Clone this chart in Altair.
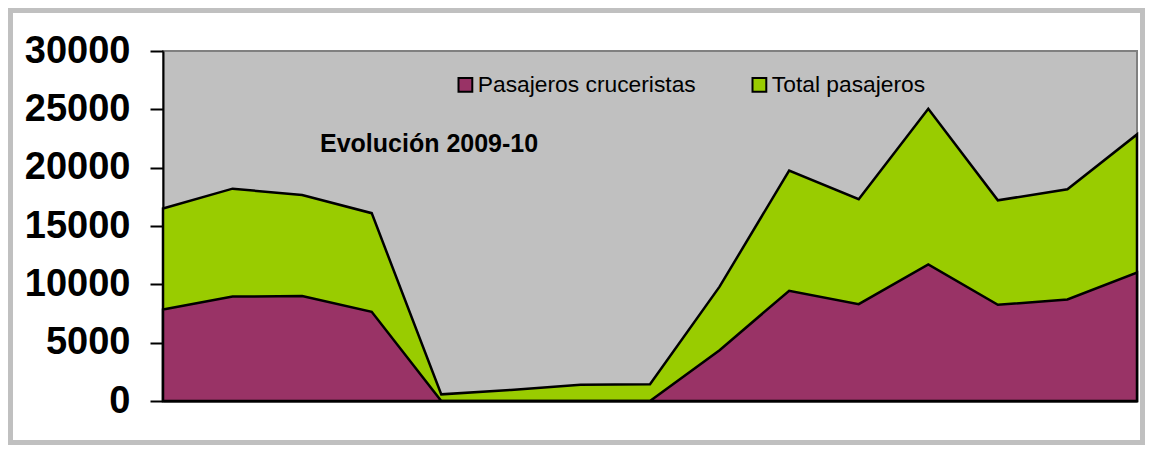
import altair as alt
import pandas as pd

# Data (15 monthly points, season 2009-10)
meses = list(range(1, 16))
cruceristas = [7850, 8950, 9000, 7650, 0, 0, 0, 0, 4350, 9450, 8300, 11700, 8250, 8700, 11000]
total = [16500, 18200, 17650, 16100, 570, 950, 1400, 1430, 9800, 19750, 17300, 25050, 17200, 18150, 22850]
series = ["Pasajeros cruceristas", "Total pasajeros"]
colores = ["#993366", "#99CC00"]
y_ticks = [0, 5000, 10000, 15000, 20000, 25000, 30000]
anotacion = "Evolución 2009-10"

df = pd.DataFrame({"mes": meses, series[0]: cruceristas, series[1]: total})
long_df = df.melt(id_vars="mes", var_name="serie", value_name="pasajeros")

FONT = "Liberation Sans"

x_enc = alt.X("mes:Q", scale=alt.Scale(domain=[1, 15], nice=False, zero=False),
              axis=alt.Axis(title=None, labels=False, ticks=False, grid=False,
                            domainColor="black", domainWidth=2))
y_enc = alt.Y("pasajeros:Q", scale=alt.Scale(domain=[0, 30000], nice=False),
              axis=alt.Axis(title=None, values=y_ticks, grid=False, format="d",
                            labelFontSize=38, labelFontWeight="bold", labelColor="black",
                            labelFont=FONT, labelPadding=20, tickSize=13, tickWidth=2,
                            tickColor="black", domainColor="black", domainWidth=2))
color_enc = alt.Color("serie:N",
                      scale=alt.Scale(domain=series, range=colores),
                      legend=alt.Legend(title=None, orient="none", legendX=291, legendY=22,
                                        direction="horizontal", symbolType="square",
                                        symbolSize=190, symbolStrokeColor="black",
                                        symbolStrokeWidth=2, symbolOpacity=1,
                                        labelFontSize=22.8, labelFont=FONT, labelColor="black",
                                        labelOffset=1, columnPadding=52, padding=0,
                                        labelLimit=400))

base = alt.Chart(long_df)

area_total = base.transform_filter(alt.datum.serie == series[1]).mark_area(
    stroke="black", strokeWidth=2.5, opacity=1, strokeJoin="miter"
).encode(x=x_enc, y=y_enc, color=color_enc)

area_cruc = base.transform_filter(alt.datum.serie == series[0]).mark_area(
    stroke="black", strokeWidth=2.5, opacity=1, strokeJoin="miter"
).encode(x=x_enc, y=y_enc, color=color_enc)

texto = alt.Chart(pd.DataFrame({"t": [anotacion]})).mark_text(
    align="left", baseline="alphabetic", fontSize=25, fontWeight="bold", font=FONT, color="black"
).encode(x=alt.value(157), y=alt.value(100.5), text="t:N")

marco = alt.Chart(pd.DataFrame({"k": [0]})).mark_rect(
    fill=None, fillOpacity=0, stroke="#C0C0C0", strokeWidth=5
).encode(x=alt.value(-152.5), x2=alt.value(979.5), y=alt.value(-40.5), y2=alt.value(391.5))

chart = alt.layer(marco, area_total, area_cruc, texto).properties(
    width=974, height=350,
    autosize=alt.AutoSizeParams(type="none"),
    padding={"left": 155, "top": 43, "right": 8, "bottom": 44},
    background="white",
).configure_view(
    fill="#C0C0C0", stroke="#808080", strokeWidth=2
)

chart.save("out.html", embed_options={"renderer": "svg", "actions": False})
